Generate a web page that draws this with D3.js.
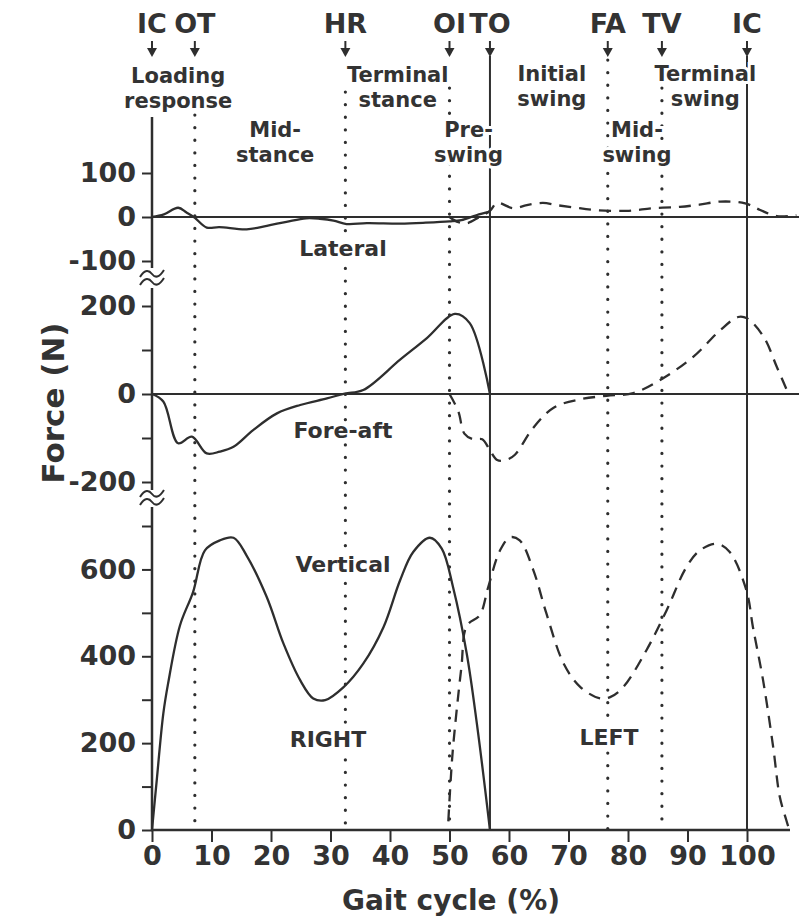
<!DOCTYPE html>
<html>
<head>
<meta charset="utf-8">
<script src="https://cdn.jsdelivr.net/npm/d3@7"></script>
<style>
  body { margin: 0; background: #fff; }
  svg text { font-family: "DejaVu Sans", sans-serif; font-weight: bold; fill: #333; }
</style>
</head>
<body>
<svg></svg>
<script>
// gait events, % of cycle
const eventNames = ["IC", "OT", "HR", "OI", "TO", "FA", "TV", "IC"];
const eventPct = [0, 7.2, 32.5, 50, 56.8, 76.6, 85.7, 100];

// phase names (two lines each)
const phaseNames = [
  ["Loading", "response"], ["Mid-", "stance"], ["Terminal", "stance"], ["Pre-", "swing"],
  ["Initial", "swing"], ["Mid-", "swing"], ["Terminal", "swing"]
];

// ticks
const xTicks = [0, 10, 20, 30, 40, 50, 60, 70, 80, 90, 100];
const latTicks = [100, 0, -100];
const faTicks = [200, 100, 0, -100, -200];
const faLabels = [200, 0, -200];
const vertTicks = [0, 100, 200, 300, 400, 500, 600, 700];
const vertLabels = [0, 200, 400, 600];

// [gait %, force N]
const latRight = [[0, 0], [2, 6], [4.4, 21], [5.8, 10], [7.2, -2], [9.2, -24], [11.3, -23], [15.9, -28],
  [19.3, -20], [22.6, -11], [25.9, -3], [28.2, -4], [30.5, -8], [32.7, -16], [36.1, -14], [41.7, -15],
  [46, -13], [50, -10], [52, -7], [54.5, 4], [56.8, 12]];
const latLeft = [[50, 0], [51.5, -12], [53, -14], [55, 0], [56.8, 14], [58, 32], [60.7, 20], [63, 27],
  [65.7, 32], [68, 27], [70.8, 22], [74.3, 16], [79.8, 14], [84.2, 20], [88.7, 23], [92, 28], [95.5, 35],
  [99.7, 31], [102.2, 16], [105, 2], [108.3, 4]];
const faRight = [[0, 0], [1.9, -17], [4.4, -112], [6.7, -97], [9.2, -135], [11.4, -131], [13.7, -120],
  [17, -82], [21, -44], [24.9, -25], [29.4, -10], [32.4, 1], [35.5, 9], [41.7, 78], [46.2, 127],
  [50.9, 182], [53.4, 161], [56.8, 0]];
const faLeft = [[50, 0], [51.5, -40], [52.5, -90], [54, -103], [55.5, -103], [56.8, -128], [58, -150],
  [59.5, -150], [61, -138], [64, -78], [67.5, -31], [72, -12], [76.4, -4], [80.9, 2], [85.9, 36],
  [91, 85], [95.5, 145], [98.5, 175], [100, 172], [102.8, 130], [105, 62], [106.6, 12]];
const vertRight = [[0, 0], [0.8, 115], [1.9, 268], [2.7, 337], [4.7, 471], [6.9, 548], [8.9, 644],
  [11.4, 667], [13.7, 673], [15.9, 632], [19.3, 536], [22.1, 429], [24.9, 345], [27.1, 303], [29.1, 299],
  [32.2, 329], [35.5, 383], [38.9, 467], [41.7, 575], [43.9, 640], [46.7, 673], [48.7, 648], [50.6, 559],
  [52.9, 406], [54.6, 245], [56.8, 0]];
const vertLeft = [[49.8, 20], [50.2, 115], [50.6, 191], [52, 375], [52.9, 470], [55.1, 495], [56.5, 559],
  [58.5, 644], [60.2, 674], [61.8, 667], [64.1, 598], [66.3, 498], [69.2, 383], [72, 329], [75.3, 303],
  [77, 306], [79.2, 329], [83.1, 414], [86.5, 506], [89.8, 605], [92.1, 644], [94.9, 659], [97.1, 640],
  [99.9, 552], [101, 467], [102.7, 345], [104.4, 191], [105.5, 77], [106.6, 23], [107, 5]];

let width = 799;
let height = 924;
let ink = "#2e2e2e";
let svg = d3.select("svg").attr("width", width).attr("height", height);
svg.append("rect").attr("width", width).attr("height", height).attr("fill", "#fff");

let x = d3.scaleLinear().domain([0, 100]).range([152, 747]);
let yLat = d3.scaleLinear().domain([-100, 100]).range([261, 173]);
let yFa = d3.scaleLinear().domain([-200, 200]).range([482, 306]);
let yVert = d3.scaleLinear().domain([0, 700]).range([830, 526]);

// event lines (first IC is the y axis itself)
let lineTop = [117, 115, 92, 88, 56, 60, 88, 56];
eventPct.forEach((p, i) => {
  if (i === 0) return;
  let solid = eventNames[i] === "IC" || eventNames[i] === "TO";
  svg.append("line")
    .attr("x1", x(p)).attr("x2", x(p))
    .attr("y1", lineTop[i]).attr("y2", 830)
    .attr("stroke", ink)
    .attr("stroke-width", solid ? 2 : 3.2)
    .attr("stroke-linecap", solid ? "butt" : "round")
    .attr("stroke-dasharray", solid ? null : "0.1 12.5");
});

// zero lines
svg.append("line").attr("x1", 152).attr("x2", width).attr("y1", yLat(0)).attr("y2", yLat(0))
  .attr("stroke", ink).attr("stroke-width", 2);
svg.append("line").attr("x1", 152).attr("x2", width).attr("y1", yFa(0)).attr("y2", yFa(0))
  .attr("stroke", ink).attr("stroke-width", 2);

// curves
let drawCurve = (data, y, dashed) => {
  let line = d3.line()
    .x((d) => x(d[0]))
    .y((d) => y(d[1]))
    .curve(d3.curveCatmullRom.alpha(0.5));
  svg.append("path")
    .datum(data)
    .attr("d", line)
    .attr("fill", "none")
    .attr("stroke", ink)
    .attr("stroke-width", 2.3)
    .attr("stroke-dasharray", dashed ? "12 8" : null);
};
drawCurve(latRight, yLat, false);
drawCurve(latLeft, yLat, true);
drawCurve(faRight, yFa, false);
drawCurve(faLeft, yFa, true);
drawCurve(vertRight, yVert, false);
drawCurve(vertLeft, yVert, true);

// axes
let styleAxis = (g) => {
  g.select(".domain").remove();
  g.attr("color", ink).attr("font-family", "DejaVu Sans").attr("font-size", 27).attr("font-weight", "bold");
  g.selectAll(".tick line").attr("stroke-width", 2);
  g.selectAll(".tick text").attr("fill", "#333");
};
let yAxes = [
  [yLat, latTicks, latTicks],
  [yFa, faTicks, faLabels],
  [yVert, vertTicks, vertLabels]
];
yAxes.forEach(([scale, ticks, labels]) => {
  svg.append("g")
    .attr("transform", "translate(152,0)")
    .call(d3.axisLeft(scale).tickValues(ticks).tickSize(10).tickPadding(6)
      .tickFormat((d) => (labels.includes(d) ? String(d) : "")))
    .call(styleAxis);
});
svg.append("g")
  .attr("transform", "translate(0,830)")
  .call(d3.axisBottom(x).tickValues(xTicks).tickSize(12).tickPadding(4))
  .call(styleAxis);

// axis lines with breaks
[[117, 268], [288, 490], [507, 830]].forEach(([a, b]) => {
  svg.append("line").attr("x1", 152).attr("x2", 152).attr("y1", a).attr("y2", b)
    .attr("stroke", ink).attr("stroke-width", 2.5);
});
svg.append("line").attr("x1", 151).attr("x2", 790).attr("y1", 830).attr("y2", 830)
  .attr("stroke", ink).attr("stroke-width", 2.5);
[278, 498].forEach((cy) => {
  [-4, 4].forEach((off) => {
    svg.append("path")
      .attr("d", `M140,${cy + off + 3} C145,${cy + off - 5} 149,${cy + off - 4} 152,${cy + off} S159,${cy + off + 4} 164,${cy + off - 4}`)
      .attr("fill", "none").attr("stroke", ink).attr("stroke-width", 2);
  });
});

// labels with white halo so the dotted lines break round them
let label = (txt, cx, cy, size) => {
  svg.append("text")
    .attr("x", cx).attr("y", cy)
    .attr("text-anchor", "middle")
    .attr("font-size", size)
    .attr("stroke", "#fff").attr("stroke-width", 6).attr("paint-order", "stroke")
    .text(txt);
};

// event names and arrows
eventPct.forEach((p, i) => {
  label(eventNames[i], x(p), 33, 27);
  svg.append("line").attr("x1", x(p)).attr("x2", x(p)).attr("y1", 41).attr("y2", 52)
    .attr("stroke", ink).attr("stroke-width", 2);
  svg.append("path")
    .attr("d", `M${x(p) - 5},48 L${x(p) + 5},48 L${x(p)},57 Z`)
    .attr("fill", ink);
});

// phase names
let phasePos = [[4.4, 83, 108], [20.7, 137, 162], [41.3, 82, 107], [53.2, 137, 162],
  [67.2, 81, 106], [81.5, 137, 162], [93, 81, 106]];
phaseNames.forEach((names, i) => {
  let [p, b1, b2] = phasePos[i];
  label(names[0], x(p), b1, 21);
  label(names[1], x(p), b2, 21);
});

label("Lateral", 343, 256, 22);
label("Fore-aft", 343, 438, 22);
label("Vertical", 343, 572, 22);
label("RIGHT", 328, 747, 22);
label("LEFT", 609, 745, 22);

// axis titles
svg.append("text")
  .attr("x", 451).attr("y", 910)
  .attr("text-anchor", "middle").attr("font-size", 28)
  .text("Gait cycle (%)");
svg.append("text")
  .attr("transform", "translate(64,403) rotate(-90)")
  .attr("text-anchor", "middle").attr("font-size", 31)
  .text("Force (N)");
</script>
</body>
</html>
